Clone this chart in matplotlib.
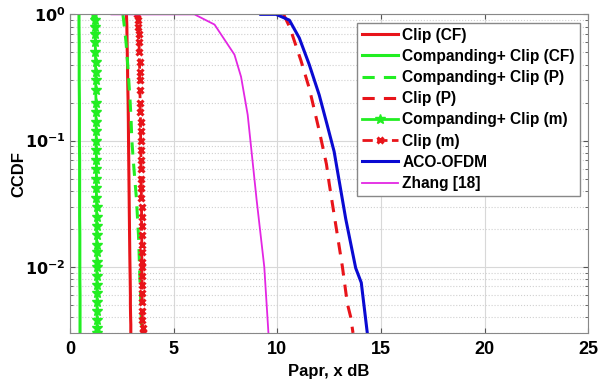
import numpy as np
import matplotlib.pyplot as plt
from matplotlib.ticker import FuncFormatter, LogLocator

# ccdf levels shared by the near-vertical curves
levels = [1, 0.8, 0.6, 0.4, 0.3, 0.2, 0.15, 0.1, 0.07, 0.05, 0.035, 0.025,
          0.018, 0.013, 0.01, 0.008, 0.006, 0.005, 0.004, 0.0035, 0.003]

clip_cf = [2.72, 2.74, 2.75, 2.77, 2.78, 2.8, 2.81, 2.82, 2.83, 2.84, 2.85, 2.86,
           2.87, 2.88, 2.89, 2.9, 2.91, 2.91, 2.92, 2.93, 2.93]
comp_cf = [0.43, 0.43, 0.44, 0.44, 0.44, 0.45, 0.45, 0.45, 0.46, 0.46, 0.46, 0.46,
           0.47, 0.47, 0.47, 0.47, 0.48, 0.48, 0.48, 0.48, 0.48]
comp_p = [2.55, 2.62, 2.7, 2.78, 2.83, 2.9, 2.94, 2.98, 3.05, 3.12, 3.2, 3.25,
          3.3, 3.33, 3.35, 3.37, 3.4, 3.42, 3.43, 3.44, 3.45]

# the marker curves are sampled densely
levels_m = [1, 0.9, 0.8, 0.7, 0.6, 0.5, 0.42, 0.35, 0.3, 0.25, 0.2, 0.17, 0.14,
            0.12, 0.1, 0.085, 0.07, 0.06, 0.05, 0.042, 0.035, 0.03, 0.025, 0.021,
            0.018, 0.015, 0.013, 0.011, 0.01, 0.0085, 0.0072, 0.0062, 0.0053,
            0.0045, 0.0038, 0.0033, 0.003]
comp_m = [1.15, 1.18, 1.2, 1.21, 1.22, 1.22, 1.23, 1.23, 1.24, 1.24, 1.25, 1.25,
          1.25, 1.26, 1.26, 1.26, 1.27, 1.27, 1.27, 1.27, 1.27, 1.28, 1.28, 1.28,
          1.28, 1.28, 1.29, 1.29, 1.29, 1.29, 1.29, 1.3, 1.3, 1.3, 1.3, 1.3, 1.3]
clip_m = [3.25, 3.28, 3.3, 3.31, 3.33, 3.34, 3.35, 3.36, 3.37, 3.37, 3.38, 3.39,
          3.4, 3.4, 3.41, 3.42, 3.42, 3.43, 3.43, 3.44, 3.44, 3.45, 3.45, 3.45,
          3.46, 3.46, 3.46, 3.47, 3.47, 3.47, 3.48, 3.48, 3.48, 3.49, 3.49, 3.5, 3.5]

# Clip (P)
clip_p_x = [10.3, 10.6, 11.14, 11.54, 12.02, 12.37, 12.5, 13.14, 13.38, 13.54, 13.65]
clip_p_y = [1, 0.79, 0.43, 0.26, 0.12, 0.065, 0.046, 0.01, 0.0051, 0.004, 0.003]

# ACO-OFDM
aco_x = [9.2, 9.94, 10.58, 11.06, 11.54, 12.02, 12.4, 12.74, 12.93, 13.3, 13.78, 14.05, 14.34]
aco_y = [1, 1, 0.9, 0.65, 0.40, 0.23, 0.134, 0.082, 0.054, 0.024, 0.0098, 0.0075, 0.003]

# Zhang [18]
zhang_x = [2.0, 6.0, 6.97, 7.93, 8.25, 8.57, 9.0, 9.37, 9.57]
zhang_y = [1, 1, 0.83, 0.48, 0.32, 0.16, 0.034, 0.01, 0.003]

red = '#e8141a'
green = '#22ee22'
blue = '#0a0ad2'
magenta = '#e326e3'

plt.rcParams['font.family'] = 'Liberation Sans'
plt.rcParams['font.weight'] = 'bold'

fig = plt.figure(figsize=(5.99, 3.88), dpi=100)
ax = fig.add_axes([0.117, 0.142, 0.865, 0.821])

ax.plot(clip_cf, levels, color=red, lw=2.2, label='Clip (CF)')
ax.plot(comp_cf, levels, color=green, lw=2.2, label='Companding+ Clip (CF)')
ax.plot(comp_p, levels, color=green, lw=2.2, ls=(0, (4, 3)), label='Companding+ Clip (P)')
ax.plot(clip_p_x, clip_p_y, color=red, lw=2.2, ls=(0, (4, 3)), label='Clip (P)')
ax.plot(comp_m, levels_m, color=green, lw=2, marker='*', ms=7, label='Companding+ Clip (m)')
ax.plot(clip_m, levels_m, color=red, lw=2, ls='--', marker='x', ms=5, mew=2.2, label='Clip (m)')
ax.plot(aco_x, aco_y, color=blue, lw=2.2, label='ACO-OFDM')
ax.plot(zhang_x, zhang_y, color=magenta, lw=1.3, label='Zhang [18]')

ax.set_yscale('log')
ax.set_xlim(0, 25)
ax.set_ylim(0.003, 1)
ax.set_xticks([0, 5, 10, 15, 20, 25])
ax.yaxis.set_major_locator(LogLocator(base=10, numticks=10))
ax.yaxis.set_minor_locator(LogLocator(base=10, subs=np.arange(2, 10), numticks=10))
ax.yaxis.set_major_formatter(FuncFormatter(lambda v, p: r'$\mathbf{10^{%d}}$' % round(np.log10(v))))

ax.grid(True, which='major', color='#d8d8d8', lw=0.8)
ax.grid(True, which='minor', axis='y', color='#d0d0d0', lw=0.8, ls=':')
ax.tick_params(which='both', direction='in', top=True, right=True, color='#555555')
ax.tick_params(axis='x', labelsize=13, pad=6)
ax.tick_params(axis='y', labelsize=11.5, pad=3)
for s in ax.spines.values():
    s.set_color('#888888')

ax.set_xlabel('Papr, x dB', fontsize=12, fontweight='bold')
ax.set_ylabel('CCDF', fontsize=12, fontweight='bold')
ax.yaxis.set_label_coords(-0.085, 0.5)

leg = ax.legend(loc='upper right', prop={'weight': 'bold', 'size': 11.2},
                fancybox=False, edgecolor='#888888', framealpha=1,
                handlelength=2.3, handletextpad=0.3, labelspacing=0.4,
                borderpad=0.3, borderaxespad=0.55)

fig.savefig('out.png', dpi=100)
